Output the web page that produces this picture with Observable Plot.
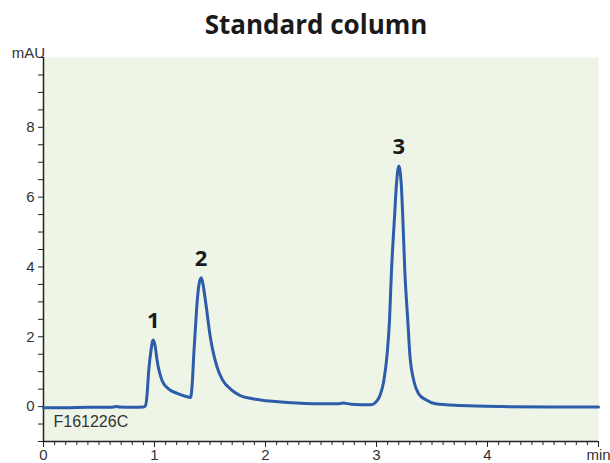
<!DOCTYPE html>
<html>
<head>
<meta charset="utf-8">
<script src="https://cdn.jsdelivr.net/npm/d3@7"></script>
<script src="https://cdn.jsdelivr.net/npm/@observablehq/plot@0.6"></script>
<style>
  html, body { margin: 0; padding: 0; background: #fff; }
  #wrap { position: relative; width: 610px; height: 463px; }
  #title { position: absolute; left: 0; top: 6px; width: 632px; text-align: center; z-index: 2;
           font-family: "Open Sans", sans-serif; font-weight: 700; font-size: 26px; line-height: 36px; color: #1a1a1a; }
</style>
</head>
<body>
<div id="wrap"><div id="title">Standard column</div></div>
<script>
// chromatogram trace: time (min) and absorbance (mAU)
const timeMin = [0, 0.2, 0.4, 0.6, 0.66, 0.68, 0.8, 0.9, 0.919, 0.932, 0.948, 0.968, 0.988, 1.005, 1.024, 1.069, 1.129, 1.205, 1.309, 1.324,
  1.340, 1.354, 1.369, 1.385, 1.401, 1.421, 1.437, 1.459, 1.505, 1.565, 1.610, 1.685, 1.775, 1.892, 2.198, 2.495, 2.65, 2.70, 2.77, 2.946,
  3.006, 3.036, 3.066, 3.096, 3.117, 3.135, 3.162, 3.180, 3.201, 3.223, 3.237, 3.255, 3.282, 3.300, 3.336, 3.381, 3.441, 3.532, 3.757, 4.117, 4.568, 5.0];
const absorbance = [-0.03, -0.03, -0.02, -0.02, 0.0, -0.01, -0.02, -0.01, 0.03, 0.3, 1.03, 1.6, 1.91, 1.75, 1.31, 0.74, 0.50, 0.38, 0.27, 0.26,
  0.66, 1.5, 2.27, 3.03, 3.5, 3.69, 3.5, 3.03, 1.95, 1.12, 0.78, 0.50, 0.31, 0.22, 0.12, 0.08, 0.08, 0.10, 0.07, 0.05,
  0.17, 0.36, 0.74, 1.51, 2.46, 3.89, 5.41, 6.37, 6.89, 6.37, 5.41, 3.89, 2.46, 1.51, 0.74, 0.36, 0.2, 0.08, 0.03, 0.0, -0.01, -0.01];

// peak labels
const peakLabels = ["1", "2", "3"];
const peakTimes = [0.99, 1.42, 3.2];
const peakHeights = [1.91, 3.69, 6.89];

// axis ticks
const xTickValues = [0, 1, 2, 3, 4, 5];
const xTickLabels = ["0", "1", "2", "3", "4", "min"];
const yTickLabels = [0, 2, 4, 6, 8];
const yUnit = "mAU";
const sampleCode = "F161226C";

const trace = timeMin.map((t, i) => ({t, a: absorbance[i]}));
const peaks = peakLabels.map((l, i) => ({l, t: peakTimes[i], a: peakHeights[i]}));
const xMinor = d3.range(0, 5.0001, 0.1).map(d => +d.toFixed(1));
const yMinor = d3.range(-1, 10.0001, 0.5);

const axisFont = "Liberation Sans, Arial, sans-serif";

const chart = Plot.plot({
  width: 610,
  height: 463,
  marginTop: 57,
  marginBottom: 22,
  marginLeft: 43,
  marginRight: 12,
  style: {fontFamily: axisFont, fontSize: "15px", color: "#333", background: "transparent"},
  x: {domain: [0, 5]},
  y: {domain: [-1, 10]},
  marks: [
    Plot.frame({fill: "#eef5e6", stroke: null}),
    Plot.axisX({ticks: xMinor, tickSize: 4, tickFormat: () => "", stroke: "#222", label: null}),
    Plot.axisX({ticks: xTickValues, tickSize: 6, tickPadding: 2, stroke: "#222",
      tickFormat: d => xTickLabels[xTickValues.indexOf(d)], fontSize: 15, fill: "#333", label: null}),
    Plot.axisY({ticks: yMinor, tickSize: 5, tickPadding: 4, stroke: "#222",
      tickFormat: d => yTickLabels.includes(d) ? String(d) : "", fontSize: 15, fill: "#333", label: null}),
    Plot.ruleX([0], {stroke: "#222", strokeWidth: 1.5}),
    Plot.ruleY([-1], {stroke: "#222", strokeWidth: 1.5}),
    Plot.text([yUnit], {frameAnchor: "top-left", dx: -15, dy: -10, textAnchor: "middle", fontSize: 15, fill: "#333"}),
    Plot.text([sampleCode], {frameAnchor: "bottom-left", dx: 10, dy: -15, textAnchor: "start", fontSize: 16, fill: "#333"}),
    Plot.line(trace, {x: "t", y: "a", curve: "monotone-x", stroke: "#2c5caa", strokeWidth: 3}),
    Plot.text(peaks, {x: "t", y: "a", text: "l", dy: -19, fontSize: 22, fontWeight: 700,
      fontFamily: "Open Sans, sans-serif", fill: "#1a1a1a"})
  ]
});
chart.style.position = "absolute";
chart.style.left = "0";
chart.style.top = "0";
document.getElementById("wrap").prepend(chart);
</script>
</body>
</html>
